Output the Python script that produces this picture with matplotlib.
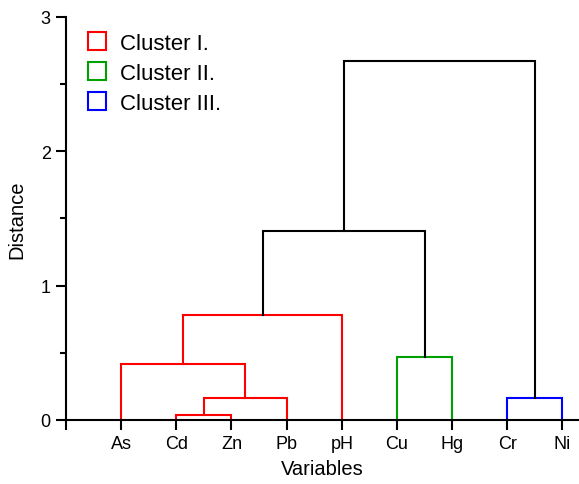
import numpy as np
import matplotlib
matplotlib.use('Agg')
from matplotlib import pyplot as plt
from matplotlib.lines import Line2D

plt.rcParams['font.family'] = ['Liberation Sans', 'DejaVu Sans']

# leaves in dendrogram order
labels = ['As', 'Cd', 'Zn', 'Pb', 'pH', 'Cu', 'Hg', 'Cr', 'Ni']
# merges: (left node, right node, height, colour); nodes 0-8 are leaves, 9+ are merges
merge_left = [1, 9, 0, 11, 5, 12, 7, 14]
merge_right = [2, 3, 10, 4, 6, 13, 8, 15]
merge_height = [0.04, 0.16, 0.42, 0.78, 0.47, 1.41, 0.16, 2.67]
merge_color = ['r', 'r', 'r', 'r', 'g', 'k', 'b', 'k']
cluster_names = ['Cluster I.', 'Cluster II.', 'Cluster III.']
cluster_colors = ['#ff0000', '#00a000', '#0000ff']

col = {'r': '#ff0000', 'g': '#00a000', 'b': '#0000ff', 'k': 'black'}

fig = plt.figure(figsize=(5.79, 4.85), dpi=100)
ax = fig.add_axes([0.114, 0.132, 0.886, 0.831])

xpos = list(np.arange(1, len(labels) + 1, dtype=float))
ypos = [0.0] * len(labels)
for l, r, h, c in zip(merge_left, merge_right, merge_height, merge_color):
    ax.plot([xpos[l], xpos[l], xpos[r], xpos[r]], [ypos[l], h, h, ypos[r]],
            color=col[c], lw=1.5, solid_joinstyle='miter', zorder=2)
    xpos.append((xpos[l] + xpos[r]) / 2.0)
    ypos.append(h)

ax.set_xlim(0, 9.3)
ax.set_ylim(0, 3)
ax.set_xticks(np.arange(0, 10))
ax.set_xticklabels([''] + labels)
ax.set_yticks([0, 1, 2, 3])
ax.set_yticks([0.5, 1.5, 2.5], minor=True)
ax.spines['top'].set_visible(False)
ax.spines['right'].set_visible(False)
ax.spines['left'].set_linewidth(1.5)
ax.spines['bottom'].set_linewidth(1.5)
ax.tick_params(axis='both', which='major', direction='out', length=7, width=1.5, labelsize=13, pad=4)
ax.tick_params(axis='y', which='minor', direction='out', length=4, width=1.5)
ax.set_xlabel('Variables', fontsize=14.5, labelpad=5)
ax.set_ylabel('Distance', fontsize=14.5, labelpad=10)

handles = [Line2D([], [], marker='s', ls='none', markersize=13.5, markerfacecolor='white',
                  markeredgecolor=c, markeredgewidth=1.5) for c in cluster_colors]
ax.legend(handles, cluster_names, loc='upper left', bbox_to_anchor=(0.0, 1.01),
          frameon=False, fontsize=16, handlelength=1.0, handletextpad=0.55, labelspacing=0.4)

plt.savefig('out.png', dpi=100)
